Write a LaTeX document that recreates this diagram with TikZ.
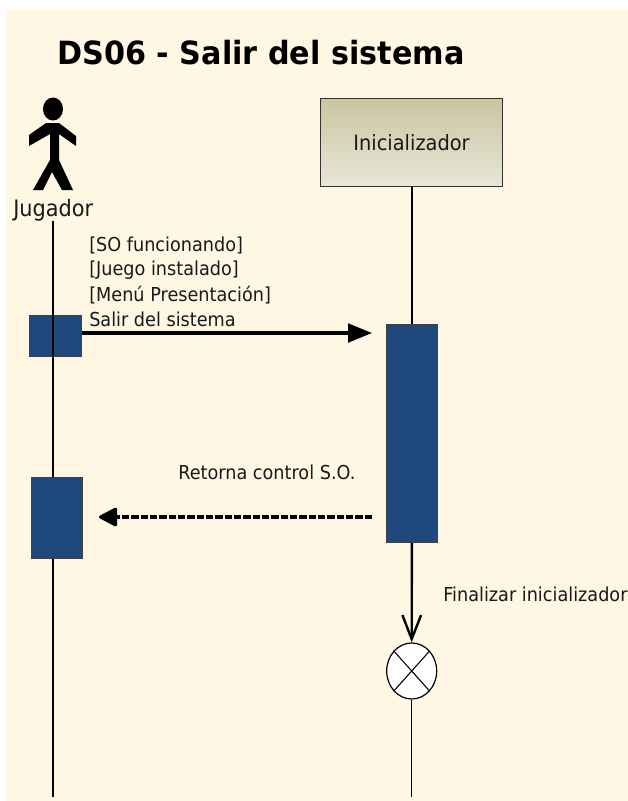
\documentclass[tikz,border=0pt]{standalone}
\usepackage{fontspec}
\setmainfont{DejaVu Sans}[FakeStretch=0.92]
\newfontfamily\titlefont{DejaVu Sans Bold}[FakeStretch=0.945]
\usetikzlibrary{arrows.meta,shapes.geometric}
\definecolor{cream}{HTML}{FFF6E3}
\definecolor{actblue}{HTML}{1F497D}
\definecolor{gtop}{HTML}{C9C5A0}
\definecolor{gbot}{HTML}{E8E7D9}
\tikzset{
  x=0.75pt,y=-0.75pt,
  lifeline/.style={draw=black,line width=1.1pt},
  activation/.style={draw=black!75,fill=actblue,line width=0.8pt,inner sep=0pt},
  lbl/.style={inner sep=0pt,anchor=west,font=\fontsize{14.4}{16}\selectfont,text=black!90},
  msg/.style={draw=black,line width=2.3pt},
}
\begin{document}
\begin{tikzpicture}
\useasboundingbox (0,0) rectangle (628,801);
\fill[white] (0,0) rectangle (628,801);
\fill[cream] (6,10) rectangle (628,801);
\node[inner sep=0pt,anchor=west,font=\titlefont\fontsize{24}{28}\selectfont] (title) at (57,53) {DS06 - Salir del sistema};
% actor
\fill[black] (53,109) ellipse (10 and 11.5);
\fill[black] (46,123) -- (59,123) -- (76,136) -- (76,146) -- (59,134) -- (59,160) -- (73,190) -- (62,190) -- (52,172) -- (43,190) -- (33,190) -- (50,160) -- (50,134) -- (29,146) -- (29,135) -- cycle;
\node[lbl,font=\fontsize{17}{19}\selectfont] (jugador) at (13,210) {Jugador};
% object
\node[draw=black!80,line width=0.8pt,top color=gtop,bottom color=gbot,minimum width=136.5pt,minimum height=66pt,inner sep=0pt,
  anchor=north west,font=\fontsize{15.8}{18}\selectfont,text=black!90] (ini) at (320,98) {Inicializador};
% lifelines
\coordinate (jtop) at (53,221);
\coordinate (jbot) at (53,797);
\coordinate (ibot) at (412,797);
\draw[lifeline] (jtop) -- (jbot);
% activations
\node[activation,anchor=north west,minimum width=39pt,minimum height=30.75pt] (a1) at (29,315) {};
\node[activation,anchor=north west,minimum width=38.5pt,minimum height=60.5pt] (a2) at (31,477) {};
\node[activation,anchor=north west,minimum width=38pt,minimum height=163.5pt] (b1) at (386,324) {};
\draw[lifeline] (b1.north |- ini.south) -- (b1.north);
\draw[lifeline] (53,315) -- (53,356);
% labels
\node[lbl] (g1) at (89,245) {[SO funcionando]};
\node[lbl] (g2) at (89,270) {[Juego instalado]};
\node[lbl] (g3) at (89,295) {[Menú Presentación]};
\node[lbl] (m1) at (89,319) {Salir del sistema};
\node[lbl] (m2) at (178,472) {Retorna control S.O.};
\node[lbl] (m3) at (443,594) {Finalizar inicializador};
% messages
\draw[msg,shorten >=10.5pt,-{Triangle[length=18pt,width=14pt]}] (a1.east |- 0,333) -- (b1.west |- 0,333);
\coordinate (rs) at (372,517);
\coordinate (re) at (99,517);
\draw[msg,dash pattern=on 5.5pt off 1.5pt,-{Triangle[length=15pt,width=15pt,round]}] (rs) -- (re);
% destroy
\node[ellipse,draw=black,fill=white,line width=0.9pt,inner sep=0pt,
  minimum width=37.5pt,minimum height=42pt] (x) at (411.7,671) {};
\draw[line width=0.8pt] (x.north west) -- (x.south east) (x.south west) -- (x.north east);
\draw[msg,line width=1.8pt,-{Straight Barb[length=18pt,width=14pt,line width=1.8pt]}] (b1.south) -- (x.north);
\draw[lifeline] (x.south) -- (x.south |- ibot);
\end{tikzpicture}
\end{document}
